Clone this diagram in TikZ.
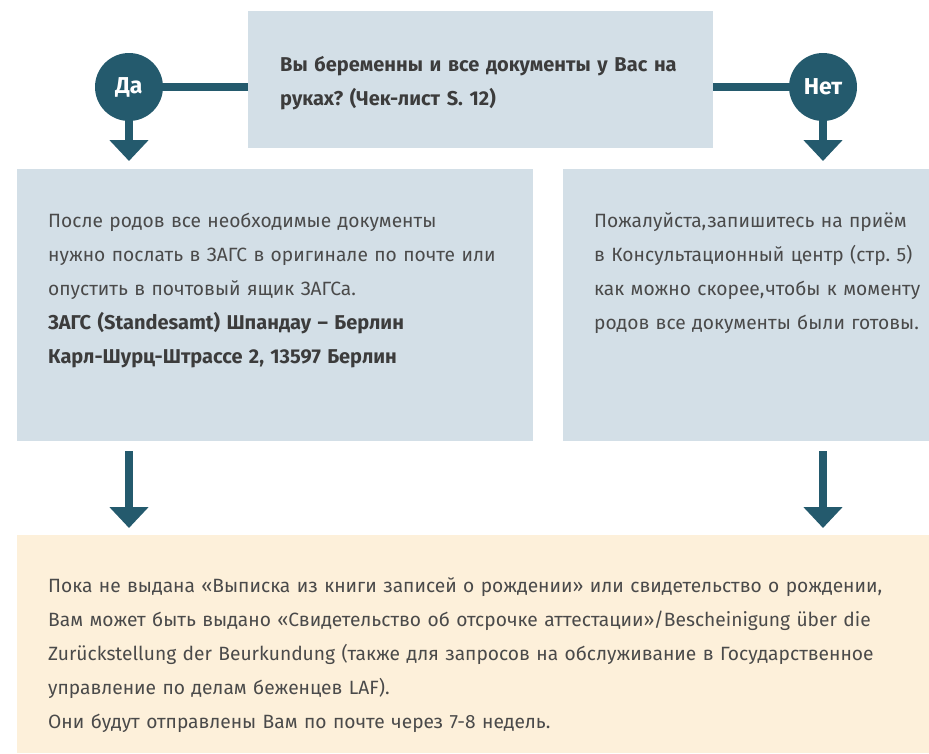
\documentclass[tikz,border=0pt]{standalone}
\usepackage{fontspec}
\setmainfont{Fira Sans}
\usetikzlibrary{arrows.meta}

\definecolor{boxblue}{HTML}{D3DFE7}
\definecolor{darkteal}{HTML}{245A6D}
\definecolor{cream}{HTML}{FDF0DA}
\definecolor{txtgray}{HTML}{4A4A4A}
\definecolor{txtdark}{HTML}{3C3C3C}

\frenchspacing

\begin{document}
\begin{tikzpicture}[x=1pt, y=-1pt,
    box/.style={fill=boxblue, inner sep=0pt, anchor=north west},
    answer/.style={circle, fill=darkteal, text=white, minimum size=68pt, inner sep=0pt,
        font=\fontsize{23}{23}\selectfont\bfseries},
    bodytext/.style={anchor=base west, inner sep=0pt, align=left, text=txtgray,
        font=\fontsize{19.2}{34}\selectfont},
    boldtext/.style={font=\fontsize{20}{34}\selectfont\bfseries},
    link/.style={darkteal, line width=8pt},
    flow/.style={link, -{Triangle[width=38pt,length=21pt]}}]
    \useasboundingbox (0,0) rectangle (929,753);

    % Boxes
    \node[box, minimum width=465pt, minimum height=137pt] (question) at (248,11) {};
    \node[box, minimum width=516pt, minimum height=272pt] (yesbox) at (17,169) {};
    \node[box, minimum width=366pt, minimum height=272pt] (nobox) at (563,169) {};
    \node[box, fill=cream, minimum width=912pt, minimum height=218pt] (final) at (17,535) {};

    % Answers
    \node[answer] (da) at (129,87) {Да};
    \node[answer] (net) at (823,87) {Нет};

    % Texts
    \node[bodytext, boldtext, text=txtdark, text width=420pt]
        (qtext) at (280,71) {Вы беременны и все документы у Вас на\\руках? (Чек-лист S.~12)};
    \node[bodytext, text width=470pt] (yestext) at (48,227)
        {После родов все необходимые документы\\
         нужно послать в ЗАГС в оригинале по почте или\\
         опустить в почтовый ящик ЗАГСа.\\
         \textcolor{txtdark}{\fontsize{20}{34}\selectfont\bfseries ЗАГС (Standesamt) Шпандау – Берлин}\\
         \textcolor{txtdark}{\fontsize{20}{34}\selectfont\bfseries Карл-Шурц-Штрассе 2, 13597 Берлин}};
    \node[bodytext, text width=360pt] (notext) at (594,227)
        {Пожалуйста,\kern1pt запишитесь на приём\\
         в Консультационный центр (стр. 5)\\
         как можно скорее,\kern1pt чтобы к моменту\\
         родов все документы были готовы.};
    \node[bodytext, text width=880pt] (finaltext) at (48,592)
        {Пока не выдана «Выписка из книги записей о рождении» или свидетельство о рождении,\\
         Вам может быть выдано «Свидетельство об отсрочке аттестации»/Bescheinigung über die\\
         Zurückstellung der Beurkundung (также для запросов на обслуживание в Государственное\\
         управление по делам беженцев LAF).\\
         Они будут отправлены Вам по почте через 7-8 недель.};

    % Connectors
    \draw[link] (da.east) -- (da.east -| question.west);
    \draw[link] (net.west) -- (net.west -| question.east);
    \draw[flow, shorten >=8pt] (da.south) -- (da.south |- yesbox.north);
    \draw[flow, shorten >=8pt] (net.south) -- (net.south |- nobox.north);
    \draw[flow, shorten <=10pt, shorten >=7pt] (yesbox.south -| da) -- (final.north -| da);
    \draw[flow, shorten <=10pt, shorten >=7pt] (nobox.south -| net) -- (final.north -| net);
\end{tikzpicture}
\end{document}
